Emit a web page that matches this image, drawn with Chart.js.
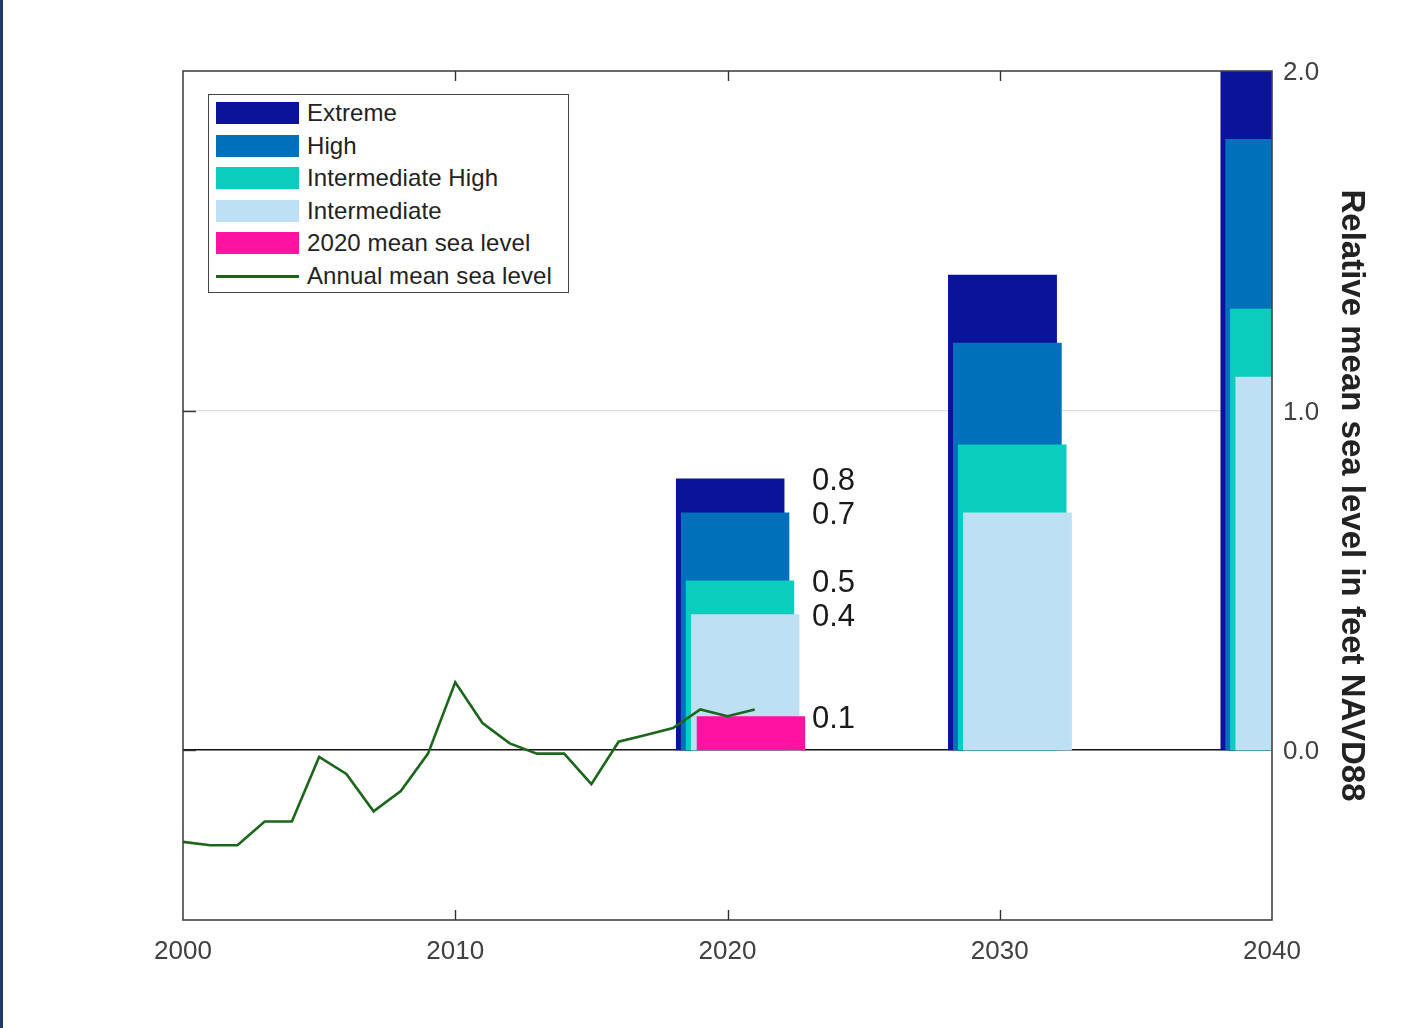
<!DOCTYPE html>
<html>
<head>
<meta charset="utf-8">
<script src="https://cdn.jsdelivr.net/npm/chart.js@4.4.1/dist/chart.umd.min.js"></script>
<style>
  html, body { margin: 0; padding: 0; background: #ffffff; }
  #wrap { position: relative; width: 1407px; height: 1028px; overflow: hidden; }
  #stripe { position: absolute; left: 0; top: 0; width: 3px; height: 1028px; background: #1f3a63; }
  #legend {
    position: absolute; left: 208px; top: 94px; width: 361px; height: 199px;
    border: 1.5px solid #444; background: #fff; box-sizing: border-box;
    font-family: "Liberation Sans", Arial, sans-serif; font-size: 24px; color: #222;
  }
  .row { position: absolute; left: 7px; height: 24px; display: flex; align-items: center; }
  .sw { width: 83px; height: 22px; margin-right: 8px; flex: none; }
  .ln { width: 83px; height: 3px; margin-right: 8px; flex: none; }
  .lbl { white-space: nowrap; letter-spacing: 0.1px; }
</style>
</head>
<body>
<div id="wrap">
  <canvas id="c" width="1407" height="1028"></canvas>
  <div id="stripe"></div>
  <div id="legend"></div>
</div>
<script>
// ---- data ----
const lineYears = [2000, 2001, 2002, 2003, 2004, 2005, 2006, 2007, 2008, 2009, 2010,
                   2011, 2012, 2013, 2014, 2015, 2016, 2017, 2018, 2019, 2020, 2021];
const annualMSL = [-0.27, -0.28, -0.28, -0.21, -0.21, -0.02, -0.07, -0.18, -0.12, -0.01, 0.20,
                   0.08, 0.02, -0.01, -0.01, -0.10, 0.025, 0.045, 0.065, 0.12, 0.10, 0.12];
const scenarioYears = [2020, 2030, 2040];
const extreme = [0.8, 1.4, 2.0];
const high = [0.7, 1.2, 1.8];
const intermediateHigh = [0.5, 0.9, 1.3];
const intermediate = [0.4, 0.7, 1.1];
const msl2020 = [0.1];
const msl2020Year = [2020];
const xTicks = [2000, 2010, 2020, 2030, 2040];
const yTicks = [0.0, 1.0, 2.0];
const labelValues = [0.8, 0.7, 0.5, 0.4, 0.1];

const seriesNames = ['Extreme', 'High', 'Intermediate High', 'Intermediate', '2020 mean sea level', 'Annual mean sea level'];

// ---- styles / geometry ----
const colors = {
  'Extreme': '#0c139b',
  'High': '#0070ba',
  'Intermediate High': '#0bcdbd',
  'Intermediate': '#bde0f4',
  '2020 mean sea level': '#ff13a0',
  'Annual mean sea level': '#1c661c'
};
const barHalf = 2.0;        // half-width of scenario rectangles (years)
const barShift = { 'Extreme': 0.1, 'High': 0.28, 'Intermediate High': 0.46, 'Intermediate': 0.65, '2020 mean sea level': 0.86 };
const FONT = '"Liberation Sans", Arial, Helvetica, sans-serif';

function rectPoints(year, shift, h) {
  const x0 = year - barHalf + shift;
  const x1 = x0 + 2 * barHalf;
  return [{x: x0, y: 0}, {x: x0, y: h}, {x: x1, y: h}, {x: x1, y: 0}];
}

const datasets = [];
// line on top (dataset 0 drawn last)
datasets.push({
  label: 'Annual mean sea level',
  data: lineYears.map((y, i) => ({x: y, y: annualMSL[i]})),
  borderColor: colors['Annual mean sea level'],
  borderWidth: 2.6, pointRadius: 0, fill: false, tension: 0, order: 0
});
function addRects(name, yrs, vals, order) {
  yrs.forEach((yr, i) => {
    datasets.push({
      label: name,
      data: rectPoints(yr, barShift[name], vals[i]),
      borderColor: 'rgba(0,0,0,0)', borderWidth: 0,
      backgroundColor: colors[name],
      pointRadius: 0, tension: 0, fill: 'origin', order: order
    });
  });
}
addRects('2020 mean sea level', msl2020Year, msl2020, 1);
addRects('Intermediate', scenarioYears, intermediate, 2);
addRects('Intermediate High', scenarioYears, intermediateHigh, 3);
addRects('High', scenarioYears, high, 4);
addRects('Extreme', scenarioYears, extreme, 5);

// ---- legend (HTML) ----
const legend = document.getElementById('legend');
seriesNames.forEach((n, i) => {
  const row = document.createElement('div');
  row.className = 'row';
  row.style.top = (6 + i * 32.6) + 'px';
  const sw = document.createElement('div');
  if (n === 'Annual mean sea level') { sw.className = 'ln'; } else { sw.className = 'sw'; }
  sw.style.background = colors[n];
  const t = document.createElement('span');
  t.className = 'lbl'; t.textContent = n;
  row.appendChild(sw); row.appendChild(t);
  legend.appendChild(row);
});

// ---- plugin: frame, inner ticks, value labels ----
const decor = {
  id: 'decor',
  afterDatasetsDraw(chart) {
    const {ctx, chartArea: a, scales} = chart;
    const xs = scales.x, ys = scales.y;
    ctx.save();
    // value labels next to 2020 bars
    ctx.fillStyle = '#1a1a1a';
    ctx.font = '31px ' + FONT;
    ctx.textAlign = 'left';
    ctx.textBaseline = 'middle';
    const lx = xs.getPixelForValue(scenarioYears[0] + 3.1);
    labelValues.forEach(v => {
      ctx.fillText(v.toFixed(1), lx, ys.getPixelForValue(v) + 3);
    });
    // frame
    ctx.strokeStyle = '#444';
    ctx.lineWidth = 1.6;
    ctx.strokeRect(a.left, a.top, a.right - a.left, a.bottom - a.top);
    // x ticks (inward, top & bottom)
    ctx.lineWidth = 1.4;
    ctx.strokeStyle = '#333';
    xTicks.forEach(v => {
      const px = Math.round(xs.getPixelForValue(v)) + 0.5;
      if (px <= a.left + 1 || px >= a.right - 1) return;
      ctx.beginPath();
      ctx.moveTo(px, a.bottom); ctx.lineTo(px, a.bottom - 10);
      ctx.moveTo(px, a.top); ctx.lineTo(px, a.top + 10);
      ctx.stroke();
    });
    // y ticks (inward, left)
    yTicks.forEach(v => {
      const py = Math.round(ys.getPixelForValue(v)) + 0.5;
      if (py <= a.top + 1 || py >= a.bottom - 1) return;
      ctx.beginPath();
      ctx.moveTo(a.left, py); ctx.lineTo(a.left + 13, py);
      ctx.stroke();
    });
    ctx.restore();
  }
};

new Chart(document.getElementById('c'), {
  type: 'line',
  data: { datasets },
  options: {
    responsive: false,
    animation: false,
    events: [],
    layout: { padding: { left: 183, top: 71, right: 0, bottom: 0 } },
    plugins: { legend: { display: false }, tooltip: { enabled: false } },
    scales: {
      x: {
        type: 'linear', min: 2000, max: 2040,
        afterBuildTicks: s => { s.ticks = xTicks.map(v => ({value: v})); },
        afterFit: s => { s.height = 108; },
        grid: { display: false, drawTicks: false },
        border: { display: false },
        ticks: {
          callback: v => String(v), color: '#404040', padding: 16,
          font: { family: FONT, size: 26 }, maxRotation: 0
        }
      },
      y: {
        position: 'right', min: -0.5, max: 2.0,
        afterBuildTicks: s => { s.ticks = yTicks.map(v => ({value: v})); },
        afterFit: s => { s.width = 135; },
        grid: {
          drawTicks: false,
          color: c => (c.tick && c.tick.value === 0) ? '#111111' : (c.tick && c.tick.value === 1 ? '#dddddd' : 'rgba(0,0,0,0)'),
          lineWidth: c => (c.tick && c.tick.value === 0) ? 1.5 : 1.2
        },
        border: { display: false },
        ticks: {
          callback: v => Number(v).toFixed(1), color: '#404040', padding: 11,
          labelOffset: 2,
          font: { family: FONT, size: 26 }
        },
        title: {
          display: true, text: 'Relative mean sea level in feet NAVD88',
          color: '#222', font: { family: FONT, size: 33, weight: 'bold' },
          padding: { top: 36, bottom: 0 }
        }
      }
    }
  },
  plugins: [decor]
});
</script>
</body>
</html>
